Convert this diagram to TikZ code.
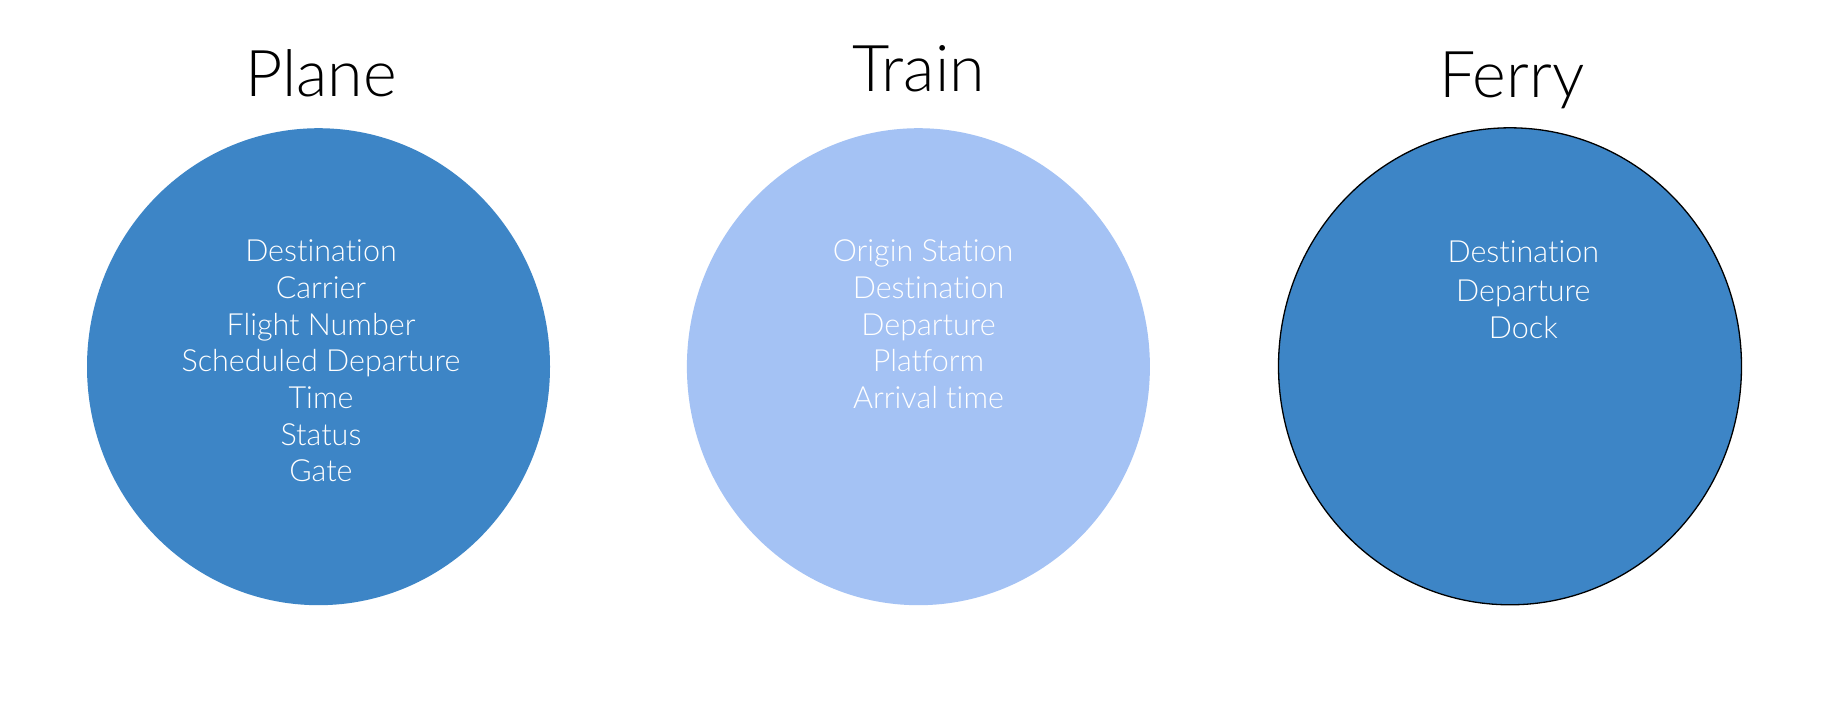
\documentclass[tikz,border=0pt]{standalone}
\usepackage{fontspec}
\setmainfont{Lato Light}[Ligatures={NoCommon,NoContextual}]
\definecolor{darkblue}{HTML}{3D85C6}
\definecolor{lightblue}{HTML}{A4C2F4}
\begin{document}
\begin{tikzpicture}[x=1pt,y=-1pt,
  title/.style={anchor=base,inner sep=0pt,font=\fontsize{64.5}{70}\selectfont,text=black},
  item/.style={anchor=base,inner sep=0pt,font=\fontsize{30.5}{36}\selectfont,text=white}]
\useasboundingbox[fill=white] (0,0) rectangle (1829,724);
% circles
\fill[darkblue] (318.5,366.7) ellipse [x radius=231.5, y radius=238.5];
\fill[lightblue] (918.4,366.7) ellipse [x radius=231.5, y radius=238.5];
\filldraw[fill=darkblue,draw=black,line width=1.3pt] (1510,366.3) ellipse [x radius=231.5, y radius=238.5];
% titles
\node[title] (tplane) at (321,96.7) {Plane};
\node[title] (ttrain) at (918.6,91) {Train};
\node[title] (tferry) at (1511.8,97.5) {Ferry};
% plane items
\foreach \t [count=\i from 0] in {Destination,Carrier,Flight Number,Scheduled Departure,Time,Status,Gate}
  \node[item] (p\i) at (321,261.7+36.67*\i) {\t};
% train items
\node[item] (t0) at (923,261.7) {Origin Station};
\foreach \t [count=\i from 1] in {Destination,Departure,Platform,Arrival time}
  \node[item] (t\i) at (928.5,261.7+36.65*\i) {\t};
% ferry items
\node[item] (f0) at (1523.3,262.7) {Destination};
\node[item] (f1) at (1523.3,301) {Departure};
\node[item] (f2) at (1523.3,338.3) {Dock};
\end{tikzpicture}
\end{document}
